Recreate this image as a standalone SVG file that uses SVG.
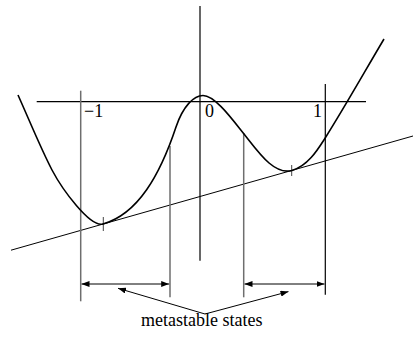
<svg xmlns="http://www.w3.org/2000/svg" width="413" height="337" viewBox="0 0 413 337">
<defs>
<style>
.ax{stroke:#000;stroke-width:1.2;fill:none}
.tan{stroke:#000;stroke-width:1;fill:none}
.crv{stroke:#000;stroke-width:1.6;fill:none;stroke-linejoin:round}
.gr{stroke:#6e6e6e;stroke-width:1.5;fill:none}
.bk{stroke:#000;stroke-width:1.2;fill:none}
.tick{stroke:#444;stroke-width:1;fill:none}
.dim{stroke:#000;stroke-width:1;fill:none}
.lbl{font-family:"Liberation Serif","Times New Roman",serif;font-size:18px;fill:#000}
</style>
<marker id="ah" viewBox="0 0 8 6" refX="8" refY="3" markerWidth="8" markerHeight="6" markerUnits="userSpaceOnUse" orient="auto-start-reverse">
<path d="M0,0 L8,3 L0,6 z" fill="#000"/>
</marker>
</defs>
<g id="axes">
<line class="ax" x1="36.7" y1="101.7" x2="366" y2="101.7"/>
<line class="ax" x1="200" y1="6" x2="200" y2="260.7"/>
</g>
<g id="tangent">
<line class="tan" x1="11" y1="250.2" x2="413" y2="136"/>
</g>
<g id="guides">
<line class="gr" x1="80.7" y1="90.7" x2="80.7" y2="301.3"/>
<line class="gr" x1="170" y1="146" x2="170" y2="297.3"/>
<line class="gr" x1="243.7" y1="133" x2="243.7" y2="297.3"/>
<line class="bk" x1="325.3" y1="84" x2="325.3" y2="294.7"/>
<line class="tick" x1="103.3" y1="217" x2="103.3" y2="231"/>
<line class="tick" x1="291.7" y1="165" x2="291.7" y2="176"/>
</g>
<g id="curve">
<path class="crv" d="M18,95 C29,119.5 41,149 52,170 C62,189 90,227.7 103,224 C138,214 160,175 176,127 C183,106 194,95.5 203,95.5 C215,95.5 232,119 244,134 C258,151.6 274,175.5 292,170.4 C308,165.9 318,149.2 325.5,137.5 C345,106.5 365,71 384,39"/>
</g>
<g id="labels">
<text class="lbl" x="84" y="116.5">−1</text>
<text class="lbl" x="205" y="116.7">0</text>
<text class="lbl" x="313" y="116.7">1</text>
<text id="metastable" class="lbl" x="141" y="326.3">metastable states</text>
</g>
<g id="connectors">
<line class="dim" x1="81.5" y1="284" x2="169.2" y2="284" marker-start="url(#ah)" marker-end="url(#ah)"/>
<line class="dim" x1="244.5" y1="284" x2="324.5" y2="284" marker-start="url(#ah)" marker-end="url(#ah)"/>
<line class="dim" x1="205" y1="314" x2="118" y2="288.3" marker-end="url(#ah)"/>
<line class="dim" x1="205" y1="314" x2="288.5" y2="291.6" marker-end="url(#ah)"/>
</g>
</svg>
